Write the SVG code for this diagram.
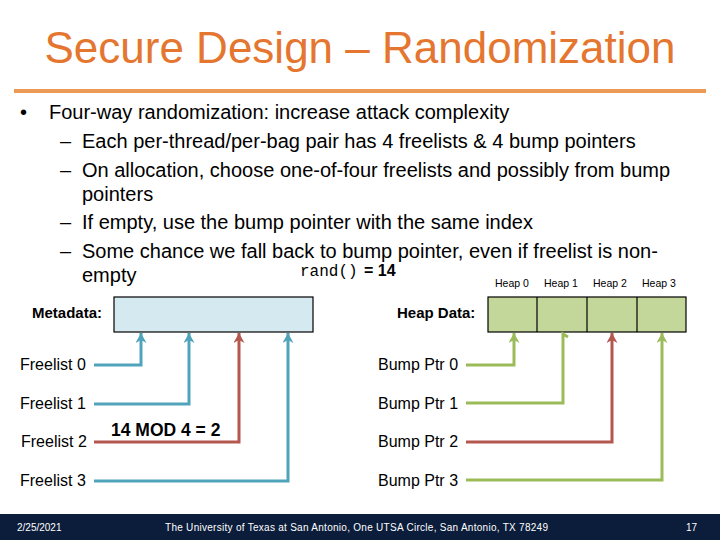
<svg xmlns="http://www.w3.org/2000/svg" width="720" height="540" viewBox="0 0 720 540">
<style>
.body{font-family:"Liberation Sans",Arial,sans-serif;font-size:20px;fill:#000}
.lbl{font-family:"Liberation Sans",Arial,sans-serif;font-size:16px;fill:#000}
.bold{font-family:"Liberation Sans",Arial,sans-serif;font-weight:bold;fill:#000}
.heap{font-family:"Liberation Sans",Arial,sans-serif;font-size:10.5px;fill:#000}
.foot{font-family:"Liberation Sans",Arial,sans-serif;font-size:10px;fill:#fff}
.blue{fill:none;stroke:#4FA3BB;stroke-width:3}
.red{fill:none;stroke:#B4574F;stroke-width:3}
.green{fill:none;stroke:#9BBB59;stroke-width:3}
</style>
<defs>
<marker id="ab" markerUnits="userSpaceOnUse" markerWidth="12" markerHeight="11" viewBox="0 0 12 11" refX="10" refY="5.5" orient="auto"><path d="M0,0 L10,5.5 L0,11 L3,5.5 Z" fill="#4FA3BB"/></marker>
<marker id="ar" markerUnits="userSpaceOnUse" markerWidth="12" markerHeight="11" viewBox="0 0 12 11" refX="10" refY="5.5" orient="auto"><path d="M0,0 L10,5.5 L0,11 L3,5.5 Z" fill="#B4574F"/></marker>
<marker id="ag" markerUnits="userSpaceOnUse" markerWidth="12" markerHeight="11" viewBox="0 0 12 11" refX="10" refY="5.5" orient="auto"><path d="M0,0 L10,5.5 L0,11 L3,5.5 Z" fill="#9BBB59"/></marker>
</defs>
<rect width="720" height="540" fill="#fff"/>
<text x="360" y="63" text-anchor="middle" font-family="Liberation Sans, Arial, sans-serif" font-size="44" fill="#E5762F">Secure Design – Randomization</text>
<line x1="14" y1="91" x2="706" y2="91" stroke="#EE9A57" stroke-width="4"/>
<g id="bullets">
<text class="body" x="20" y="119">•</text>
<text class="body" x="49" y="119">Four-way randomization: increase attack complexity</text>
<text class="body" x="60" y="148">–</text>
<text class="body" x="82" y="148">Each per-thread/per-bag pair has 4 freelists &amp; 4 bump pointers</text>
<text class="body" x="60" y="177">–</text>
<text class="body" x="82" y="177">On allocation, choose one-of-four freelists and possibly from bump</text>
<text class="body" x="82" y="201">pointers</text>
<text class="body" x="60" y="229">–</text>
<text class="body" x="82" y="229">If empty, use the bump pointer with the same index</text>
<text class="body" x="60" y="258">–</text>
<text class="body" x="82" y="258">Some chance we fall back to bump pointer, even if freelist is non-</text>
<text class="body" x="82" y="282">empty</text>
</g>
<g id="rand">
<text x="300" y="276" font-family="Liberation Mono, Courier New, monospace" font-size="16">rand()</text>
<text class="bold" x="364" y="276" font-size="16">= 14</text>
</g>
<g id="metadata">
<text class="bold" x="32" y="318" font-size="15">Metadata:</text>
<rect x="114" y="297" width="199" height="35" fill="#D5E9F0" stroke="#000" stroke-width="1.2"/>
</g>
<g id="heapdata">
<text class="bold" x="397" y="318" font-size="15">Heap Data:</text>
<rect x="488" y="297" width="198" height="35" fill="#C4D79B" stroke="#000" stroke-width="1.2"/>
<line x1="537" y1="297" x2="537" y2="332" stroke="#000" stroke-width="1.2"/>
<line x1="587" y1="297" x2="587" y2="332" stroke="#000" stroke-width="1.2"/>
<line x1="637" y1="297" x2="637" y2="332" stroke="#000" stroke-width="1.2"/>
<text class="heap" x="495" y="287">Heap 0</text>
<text class="heap" x="544" y="287">Heap 1</text>
<text class="heap" x="593" y="287">Heap 2</text>
<text class="heap" x="642" y="287">Heap 3</text>
</g>
<g id="freelists">
<text class="lbl" x="20" y="370">Freelist 0</text>
<text class="lbl" x="20" y="409">Freelist 1</text>
<text class="lbl" x="21" y="447">Freelist 2</text>
<text class="lbl" x="20" y="486">Freelist 3</text>
</g>
<g id="bumps">
<text class="lbl" x="378" y="370">Bump Ptr 0</text>
<text class="lbl" x="378" y="409">Bump Ptr 1</text>
<text class="lbl" x="378" y="447">Bump Ptr 2</text>
<text class="lbl" x="378" y="486">Bump Ptr 3</text>
</g>
<text class="bold" x="111" y="436" font-size="17.5">14 MOD 4 = 2</text>
<g id="connectors">
<path class="blue" d="M94,365 H141 V333" marker-end="url(#ab)"/>
<path class="blue" d="M94,404 H189 V333" marker-end="url(#ab)"/>
<path class="red" d="M94,442 H239 V333" marker-end="url(#ar)"/>
<path class="blue" d="M94,481 H288 V333" marker-end="url(#ab)"/>
<path class="green" d="M466,365 H514 V333" marker-end="url(#ag)"/>
<path class="green" d="M466,403 H563 V334 l5,3"/>
<path class="red" d="M466,442 H612 V333" marker-end="url(#ar)"/>
<path class="green" d="M466,480 H662 V333" marker-end="url(#ag)"/>
</g>
<g id="footer">
<rect x="0" y="514" width="720" height="26" fill="#0B1D3A"/>
<text class="foot" x="17" y="531">2/25/2021</text>
<text class="foot" x="165" y="531" textLength="383" lengthAdjust="spacing">The University of Texas at San Antonio, One UTSA Circle, San Antonio, TX 78249</text>
<text class="foot" x="686" y="531">17</text>
</g>
</svg>
